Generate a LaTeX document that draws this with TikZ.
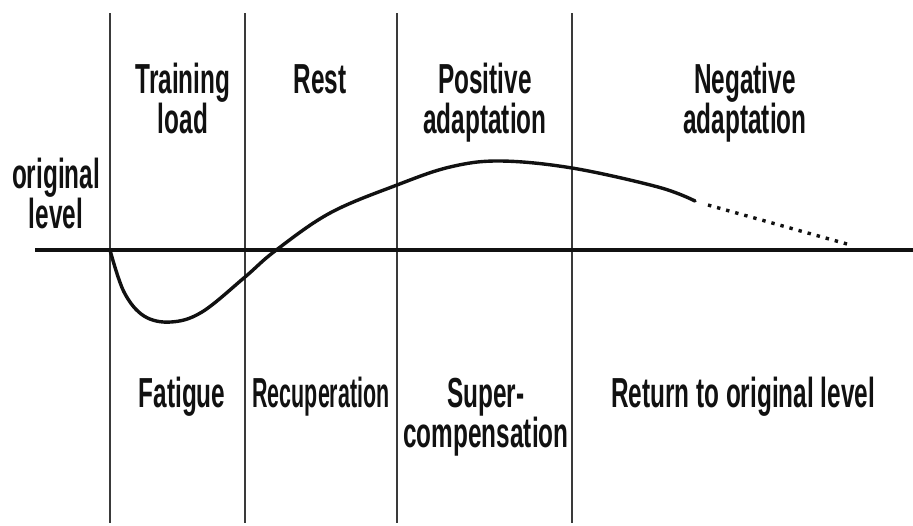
\documentclass[tikz,border=0pt]{standalone}
\usepackage{fontspec}
\setmainfont[FakeStretch=0.58]{Liberation Sans}
\usetikzlibrary{positioning}
\definecolor{scInk}{HTML}{111111}
\definecolor{scRule}{HTML}{3A3A3A}

\begin{document}
\begin{tikzpicture}[x=1pt,y=-1pt,
    phaseText/.style={text=scInk,inner sep=0pt,align=center,font=\fontsize{42}{40}\selectfont\bfseries},
    divider/.style={draw=scRule,line width=2.2pt},
    levelLine/.style={draw=scInk,line width=4.6pt},
    trendLine/.style={draw=scInk,line width=3.4pt,line cap=round}]
  \useasboundingbox[fill=white] (0,0) rectangle (913,525);
  % phase dividers
  \foreach \px/\pn in {110/a,245/b,397/c,572/d}{
    \coordinate (top\pn) at (\px,13);
    \coordinate (bot\pn) at (\px,523);
    \draw[divider] (top\pn) -- (bot\pn);
  }
  % original level
  \coordinate (levelStart) at (35,250);
  \coordinate (levelEnd) at (913,250);
  \draw[levelLine] (levelStart) -- (levelEnd);
  % performance curve
  \draw[trendLine] plot[smooth,tension=0.6] coordinates {
    (110,250) (124,292) (144,316) (171,322) (202,312) (245,277) (275,251)
    (330,213) (397,185) (450,167) (500,161) (572,168) (658,187) (695,201)};
  \coordinate (fadeStart) at (708,205);
  \coordinate (fadeEnd) at (847,244);
  \draw[trendLine,line cap=butt,dash pattern=on 3.4pt off 6pt] (fadeStart) -- (fadeEnd);
  % labels above (base = last line)
  \node[phaseText,anchor=base] (load) at (183,133) {Training\\load};
  \node[phaseText,anchor=base] (rest) at (320,93) {Rest};
  \node[phaseText,anchor=base] (posAdapt) at (485,133) {Positive\\adaptation};
  \node[phaseText,anchor=base] (negAdapt) at (745,133) {Negative\\adaptation};
  \node[phaseText,anchor=base] (origLevel) at (56,228) {original\\level};
  % labels below
  \node[phaseText,anchor=base] (fatigue) at (182,407) {Fatigue};
  \node[phaseText,anchor=base,xscale=0.88,transform shape] (recup) at (321,407) {Recuperation};
  \node[phaseText,anchor=base] (supComp) at (486,447) {Super-\\compensation};
  \node[phaseText,anchor=base] (returnLvl) at (743,407) {Return to original level};
\end{tikzpicture}
\end{document}
